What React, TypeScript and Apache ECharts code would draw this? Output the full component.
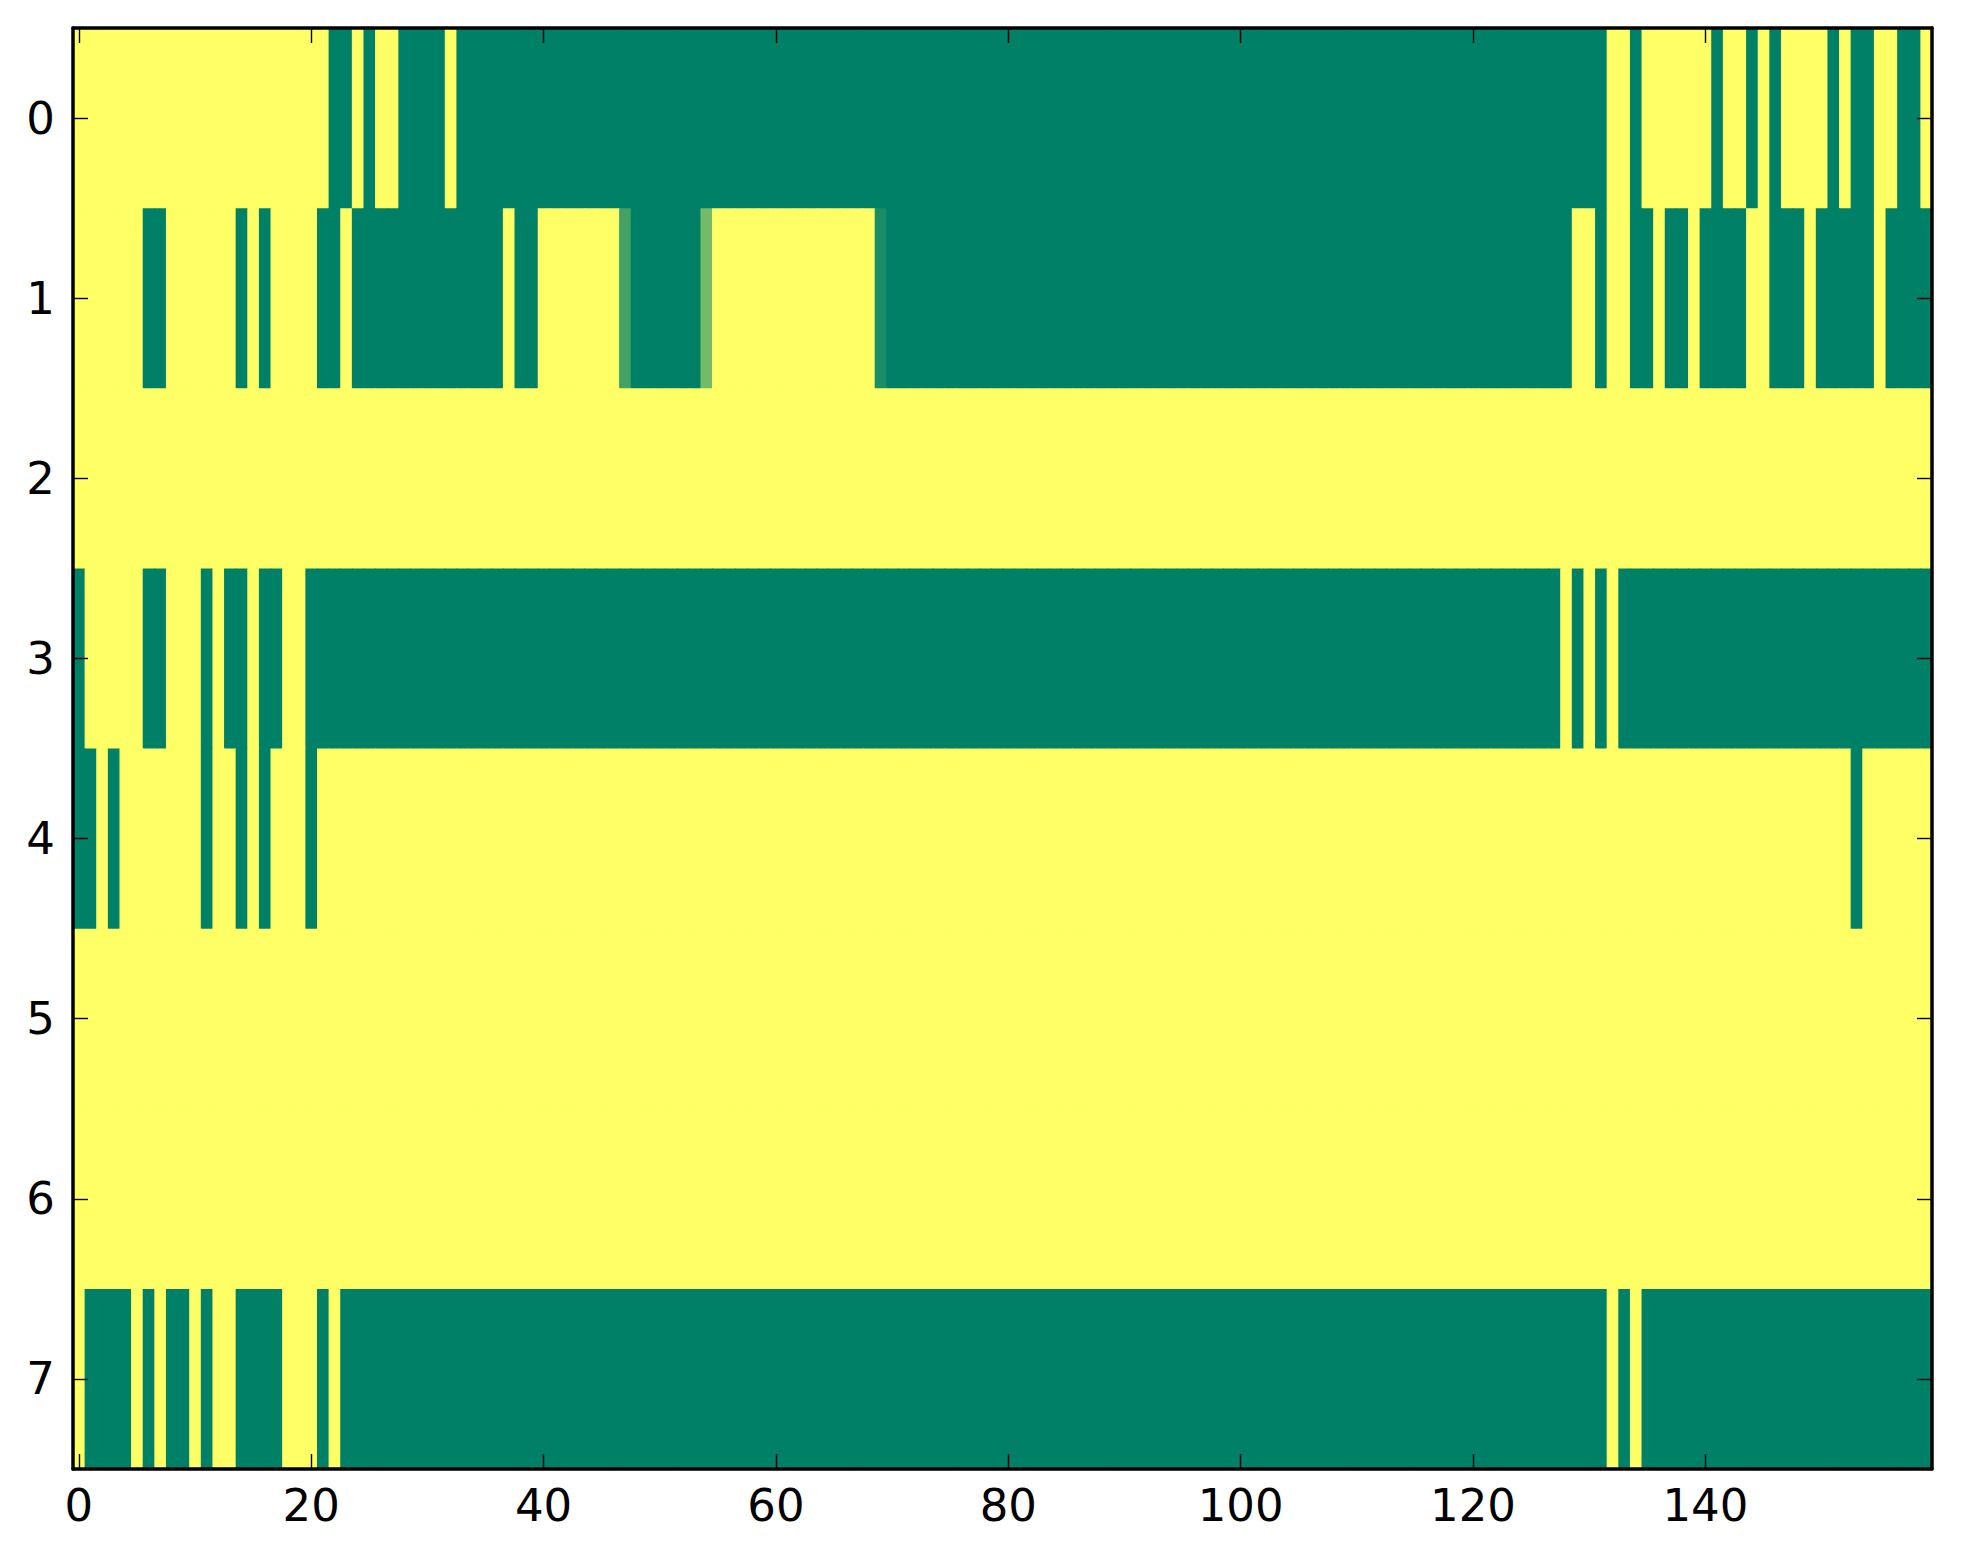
import React, { useEffect, useRef } from "react";
import * as echarts from "echarts";

// Column labels 0..159 and row labels 0..7
const xCategories: string[] = Array.from({ length: 160 }, (_, i) => String(i));
const yCategories: string[] = ["0", "1", "2", "3", "4", "5", "6", "7"];
const xTickStep = 20;

// Cell values (1 = yellow, 0 = green, fractions = intermediate shades)
const row0: number[] = [
  1,1,1,1,1,1,1,1,1,1,1,1,1,1,1,1,1,1,1,1,
  1,1,0,0,1,0,1,1,0,0,0,0,1,0,0,0,0,0,0,0,
  0,0,0,0,0,0,0,0,0,0,0,0,0,0,0,0,0,0,0,0,
  0,0,0,0,0,0,0,0,0,0,0,0,0,0,0,0,0,0,0,0,
  0,0,0,0,0,0,0,0,0,0,0,0,0,0,0,0,0,0,0,0,
  0,0,0,0,0,0,0,0,0,0,0,0,0,0,0,0,0,0,0,0,
  0,0,0,0,0,0,0,0,0,0,0,0,1,1,0,1,1,1,1,1,
  1,0,1,1,0,1,0,1,1,1,1,0,1,0,0,1,1,0,0,1,
];
const row1: number[] = [
  1,1,1,1,1,1,0,0,1,1,1,1,1,1,0,1,0,1,1,1,
  1,0,0,1,0,0,0,0,0,0,0,0,0,0,0,0,0,1,0,0,
  1,1,1,1,1,1,1,0.27,0,0,0,0,0,0,0.46,1,1,1,1,1,
  1,1,1,1,1,1,1,1,1,0.1,0,0,0,0,0,0,0,0,0,0,
  0,0,0,0,0,0,0,0,0,0,0,0,0,0,0,0,0,0,0,0,
  0,0,0,0,0,0,0,0,0,0,0,0,0,0,0,0,0,0,0,0,
  0,0,0,0,0,0,0,0,0,1,1,0,1,1,0,0,1,0,0,1,
  0,0,0,0,1,1,0,0,0,1,0,0,0,0,0,1,0,0,0,0,
];
const row2: number[] = [
  1,1,1,1,1,1,1,1,1,1,1,1,1,1,1,1,1,1,1,1,
  1,1,1,1,1,1,1,1,1,1,1,1,1,1,1,1,1,1,1,1,
  1,1,1,1,1,1,1,1,1,1,1,1,1,1,1,1,1,1,1,1,
  1,1,1,1,1,1,1,1,1,1,1,1,1,1,1,1,1,1,1,1,
  1,1,1,1,1,1,1,1,1,1,1,1,1,1,1,1,1,1,1,1,
  1,1,1,1,1,1,1,1,1,1,1,1,1,1,1,1,1,1,1,1,
  1,1,1,1,1,1,1,1,1,1,1,1,1,1,1,1,1,1,1,1,
  1,1,1,1,1,1,1,1,1,1,1,1,1,1,1,1,1,1,1,1,
];
const row3: number[] = [
  0,1,1,1,1,1,0,0,1,1,1,0,1,0,0,1,0,0,1,1,
  0,0,0,0,0,0,0,0,0,0,0,0,0,0,0,0,0,0,0,0,
  0,0,0,0,0,0,0,0,0,0,0,0,0,0,0,0,0,0,0,0,
  0,0,0,0,0,0,0,0,0,0,0,0,0,0,0,0,0,0,0,0,
  0,0,0,0,0,0,0,0,0,0,0,0,0,0,0,0,0,0,0,0,
  0,0,0,0,0,0,0,0,0,0,0,0,0,0,0,0,0,0,0,0,
  0,0,0,0,0,0,0,0,1,0,1,0,1,0,0,0,0,0,0,0,
  0,0,0,0,0,0,0,0,0,0,0,0,0,0,0,0,0,0,0,0,
];
const row4: number[] = [
  0,0,1,0,1,1,1,1,1,1,1,0,1,1,0,1,0,1,1,1,
  0,1,1,1,1,1,1,1,1,1,1,1,1,1,1,1,1,1,1,1,
  1,1,1,1,1,1,1,1,1,1,1,1,1,1,1,1,1,1,1,1,
  1,1,1,1,1,1,1,1,1,1,1,1,1,1,1,1,1,1,1,1,
  1,1,1,1,1,1,1,1,1,1,1,1,1,1,1,1,1,1,1,1,
  1,1,1,1,1,1,1,1,1,1,1,1,1,1,1,1,1,1,1,1,
  1,1,1,1,1,1,1,1,1,1,1,1,1,1,1,1,1,1,1,1,
  1,1,1,1,1,1,1,1,1,1,1,1,1,0,1,1,1,1,1,1,
];
const row5: number[] = [...row2];
const row6: number[] = [...row2];
const row7: number[] = [
  1,0,0,0,0,1,0,1,0,0,1,0,1,1,0,0,0,0,1,1,
  1,0,1,0,0,0,0,0,0,0,0,0,0,0,0,0,0,0,0,0,
  0,0,0,0,0,0,0,0,0,0,0,0,0,0,0,0,0,0,0,0,
  0,0,0,0,0,0,0,0,0,0,0,0,0,0,0,0,0,0,0,0,
  0,0,0,0,0,0,0,0,0,0,0,0,0,0,0,0,0,0,0,0,
  0,0,0,0,0,0,0,0,0,0,0,0,0,0,0,0,0,0,0,0,
  0,0,0,0,0,0,0,0,0,0,0,0,1,0,1,0,0,0,0,0,
  0,0,0,0,0,0,0,0,0,0,0,0,0,0,0,0,0,0,0,0,
];
const rows: number[][] = [row0, row1, row2, row3, row4, row5, row6, row7];

// "summer" colormap endpoints
const colorLow = "#008066";
const colorHigh = "#ffff66";

export default function App() {
  const ref = useRef<HTMLDivElement>(null);

  useEffect(() => {
    if (!ref.current) return;
    const chart = echarts.init(ref.current, undefined, { renderer: "svg" });

    const data: [number, number, number][] = [];
    rows.forEach((row, y) => row.forEach((v, x) => data.push([x, y, v])));

    const font = "DejaVu Sans";
    const everyStep = (i: number) => i % xTickStep === 0;
    const axisLine = { show: true, onZero: false, lineStyle: { color: "#000", width: 3.5 } };
    const tick = { show: true, inside: true, length: 15, lineStyle: { color: "#000", width: 1.4 } };

    chart.setOption({
      animation: false,
      backgroundColor: "#ffffff",
      grid: { left: 73, top: 28, width: 1859, height: 1441, containLabel: false },
      visualMap: {
        show: false,
        min: 0,
        max: 1,
        dimension: 2,
        seriesIndex: 0,
        inRange: { color: [colorLow, colorHigh] },
      },
      xAxis: [
        {
          type: "category",
          data: xCategories,
          position: "bottom",
          z: 10,
          axisLine,
          axisTick: { ...tick, alignWithLabel: true, interval: everyStep },
          axisLabel: {
            interval: everyStep,
            color: "#000",
            fontFamily: font,
            fontSize: 45,
            margin: 14,
          },
          splitLine: { show: false },
        },
        {
          type: "category",
          data: xCategories,
          position: "top",
          z: 10,
          axisLine,
          axisTick: { ...tick, alignWithLabel: true, interval: everyStep },
          axisLabel: { show: false },
          splitLine: { show: false },
        },
      ],
      yAxis: [
        {
          type: "category",
          data: yCategories,
          inverse: true,
          position: "left",
          z: 10,
          axisLine,
          axisTick: { ...tick, alignWithLabel: true },
          axisLabel: {
            color: "#000",
            fontFamily: font,
            fontSize: 45,
            margin: 18,
          },
          splitLine: { show: false },
        },
        {
          type: "category",
          data: yCategories,
          inverse: true,
          position: "right",
          z: 10,
          axisLine,
          axisTick: { ...tick, alignWithLabel: true },
          axisLabel: { show: false },
          splitLine: { show: false },
        },
      ],
      series: [
        {
          type: "custom",
          xAxisIndex: 0,
          yAxisIndex: 0,
          data,
          encode: { x: 0, y: 1 },
          z: 1,
          clip: true,
          renderItem: (params: any, api: any) => {
            const c = api.coord([api.value(0), api.value(1)]);
            const s = api.size([1, 1]);
            return {
              type: "rect",
              shape: {
                x: c[0] - s[0] / 2,
                y: c[1] - s[1] / 2,
                width: s[0] + 0.8,
                height: s[1] + 0.8,
              },
              style: { fill: api.visual("color") },
              silent: true,
            };
          },
        },
      ],
    });

    return () => chart.dispose();
  }, []);

  return (
    <div
      ref={ref}
      style={{ position: "fixed", left: 0, top: 0, width: 1963, height: 1564 }}
    />
  );
}
